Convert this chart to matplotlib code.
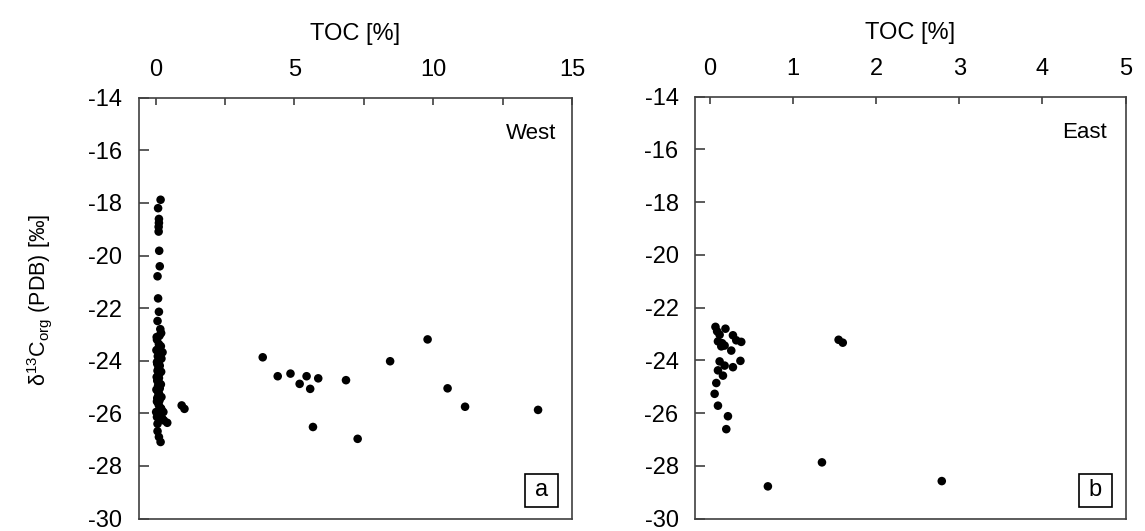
import matplotlib
matplotlib.use("Agg")
import matplotlib.pyplot as plt
from matplotlib.patches import Rectangle
from matplotlib.ticker import MultipleLocator

plt.rcParams['font.family'] = ['Liberation Sans', 'DejaVu Sans']
plt.rcParams['mathtext.fontset'] = 'custom'
plt.rcParams['mathtext.rm'] = 'Liberation Sans'
plt.rcParams['mathtext.it'] = 'Liberation Sans:italic'
plt.rcParams['axes.unicode_minus'] = False

# West: TOC [%] vs d13C org
west_toc = [0.18, 0.09, 0.12, 0.12, 0.11, 0.11, 0.13, 0.15, 0.07, 0.09,
            0.12, 0.07, 0.17, 0.14, 0.05, 0.12, 0.10, 0.25, 0.16, 0.08,
            0.13, 0.06, 0.15, 0.10, 0.07, 0.14, 0.09, 0.12, 0.06, 0.13,
            0.09, 0.15, 0.07, 0.12, 0.10, 0.06, 0.14, 0.09, 0.12, 0.18,
            0.22, 0.28, 0.05, 0.30, 0.42, 0.07, 0.07, 0.12, 0.18,
            0.20, 0.04, 0.19, 0.03, 0.21, 0.05, 0.20, 0.04, 0.19, 0.03,
            0.21, 0.05, 0.20, 0.17, 0.02, 0.24,
            0.94, 1.04,
            3.86, 4.40, 4.86, 5.19, 5.44, 5.57, 5.86, 5.67, 6.86, 7.28,
            8.45, 9.80, 10.52, 11.15, 13.78]
west_d13c = [-17.88, -18.20, -18.61, -18.76, -18.91, -19.09, -19.82, -20.41, -20.79, -21.63,
             -22.14, -22.49, -22.80, -23.05, -23.20, -23.37, -23.53, -23.68, -23.70, -23.83,
             -24.00, -24.12, -24.19, -24.30, -24.38, -24.48, -24.57, -24.66, -24.76, -24.85,
             -24.95, -25.05, -25.14, -25.24, -25.33, -25.42, -25.51, -25.60, -25.70, -25.80,
             -25.89, -25.95, -26.14, -26.27, -26.36, -26.40, -26.68, -26.90, -27.09,
             -22.95, -23.10, -23.45, -23.60, -23.92, -24.05, -24.42, -24.62, -24.90, -25.10,
             -25.38, -25.55, -25.82, -26.05, -25.95, -26.20,
             -25.70, -25.83,
             -23.87, -24.59, -24.49, -24.88, -24.59, -25.07, -24.67, -26.52, -24.74, -26.97,
             -24.02, -23.19, -25.05, -25.75, -25.87]

# East
east_toc = [0.07, 0.19, 0.12, 0.28, 0.10, 0.38, 0.32, 0.14, 0.18, 0.26,
            0.12, 0.37, 0.18, 0.28, 0.10, 0.16, 0.08, 0.06, 0.10, 0.22,
            0.20, 0.09, 0.15, 1.55, 1.60, 0.70, 1.35, 2.79]
east_d13c = [-22.73, -22.80, -23.03, -23.05, -23.28, -23.30, -23.24, -23.47, -23.44, -23.63,
             -24.04, -24.02, -24.20, -24.26, -24.38, -24.58, -24.86, -25.27, -25.72, -26.12,
             -26.61, -22.90, -23.35, -23.22, -23.33, -28.78, -27.87, -28.58]

panels = [
    dict(toc=west_toc, d13c=west_d13c, xlim=(-0.61, 15), major=5, minor=2.5,
         name='West', letter='a', rect=[0.1211, 0.0235, 0.3784, 0.7925],
         name_x=0.963, box=(0.8915, 0.0284, 0.0762, 0.0781)),
    dict(toc=east_toc, d13c=east_d13c, xlim=(-0.173, 5), major=1, minor=None,
         name='East', letter='b', rect=[0.6072, 0.0235, 0.3759, 0.7944],
         name_x=0.957, box=(0.892, 0.0274, 0.0753, 0.079)),
]

fig = plt.figure(figsize=(11.45, 5.31), dpi=100)
spine_col = '#404040'

for i, p in enumerate(panels):
    ax = fig.add_axes(p['rect'])
    ax.scatter(p['toc'], p['d13c'], s=38, color='black', edgecolors='none', zorder=3)
    ax.set_xlim(*p['xlim'])
    ax.set_ylim(-30, -14)
    ax.xaxis.set_major_locator(MultipleLocator(p['major']))
    if p['minor']:
        ax.xaxis.set_minor_locator(MultipleLocator(p['minor']))
    ax.yaxis.set_major_locator(MultipleLocator(2))
    ax.xaxis.tick_top()
    ax.xaxis.set_label_position('top')
    ax.tick_params(axis='x', which='both', direction='in', length=5, width=1.2,
                   color=spine_col, labelsize=17, pad=12, top=True, bottom=False)
    ax.tick_params(axis='y', direction='in', length=7, width=1.2, color=spine_col,
                   labelsize=17, pad=12)
    ax.set_xlabel('TOC [%]', fontsize=17, labelpad=14)
    for sp in ax.spines.values():
        sp.set_color(spine_col)
        sp.set_linewidth(1.2)

    ax.text(p['name_x'], 0.94, p['name'], transform=ax.transAxes, ha='right', va='top',
            fontsize=16)
    bx, by, bw, bh = p['box']
    ax.add_patch(Rectangle((bx, by), bw, bh, transform=ax.transAxes, fill=False,
                           ec='black', lw=1.2, zorder=4))
    ax.text(bx + bw / 2, by + bh / 2, p['letter'], transform=ax.transAxes,
            ha='center', va='center', fontsize=17, zorder=5)

    if i == 0:
        ax.set_ylabel(r'$\mathrm{\delta^{13}C_{org}}$ (PDB) [‰]', fontsize=15.5)
        ax.yaxis.set_label_coords(-0.195, 0.52)

fig.savefig('out.png', dpi=100)
